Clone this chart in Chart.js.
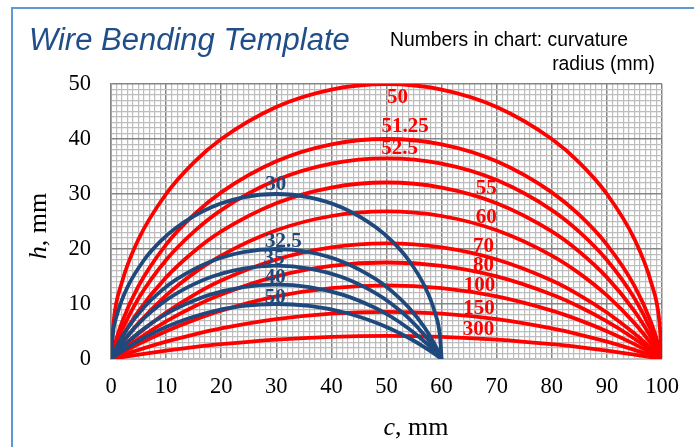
<!DOCTYPE html>
<html>
<head>
<meta charset="utf-8">
<title>Wire Bending Template</title>
<script src="https://cdn.jsdelivr.net/npm/chart.js@4.4.1/dist/chart.umd.min.js"></script>
<style>
  body { margin: 0; background: #fff; }
  canvas { display: block; }
</style>
</head>
<body>
<canvas id="chart" width="694" height="447"></canvas>
<script>
// chord position c (mm) for the 100 mm arcs and the 60 mm arcs
const redC = [0, 0.5, 2, 5, 10, 15, 20, 30, 40, 50, 60, 70, 80, 85, 90, 95, 98, 99.5, 100];
const blueC = [0, 0.3, 1.2, 3, 6, 9, 12, 18, 24, 30, 36, 42, 48, 51, 54, 57, 58.8, 59.7, 60];

// height h (mm) read along each arc
const redH50 = [0, 7.05, 14, 21.79, 30, 35.71, 40, 45.83, 48.99, 50, 48.99, 45.83, 40, 35.71, 30, 21.79, 14, 7.05, 0];
const redH51 = [0, 2.03, 6.71, 13.28, 20.79, 26.19, 30.3, 35.94, 39.02, 40, 39.02, 35.94, 30.3, 26.19, 20.79, 13.28, 6.71, 2.03, 0];
const redH52 = [0, 1.49, 5.26, 11.03, 18, 23.12, 27.08, 32.53, 35.53, 36.49, 35.53, 32.53, 27.08, 23.12, 18, 11.03, 5.26, 1.49, 0];
const redH55 = [0, 1.06, 3.94, 8.71, 14.84, 19.51, 23.19, 28.32, 31.17, 32.09, 31.17, 28.32, 23.19, 19.51, 14.84, 8.71, 3.94, 1.06, 0];
const redH60 = [0, 0.74, 2.83, 6.52, 11.56, 15.57, 18.8, 23.4, 26, 26.83, 26, 23.4, 18.8, 15.57, 11.56, 6.52, 2.83, 0.74, 0];
const redH70 = [0, 0.51, 1.96, 4.63, 8.46, 11.63, 14.26, 18.09, 20.29, 21.01, 20.29, 18.09, 14.26, 11.63, 8.46, 4.63, 1.96, 0.51, 0];
const redH80 = [0, 0.4, 1.55, 3.69, 6.83, 9.49, 11.71, 15.01, 16.92, 17.55, 16.92, 15.01, 11.71, 9.49, 6.83, 3.69, 1.55, 0.4, 0];
const redH100 = [0, 0.29, 1.12, 2.7, 5.05, 7.07, 8.79, 11.38, 12.9, 13.4, 12.9, 11.38, 8.79, 7.07, 5.05, 2.7, 1.12, 0.29, 0];
const redH150 = [0, 0.18, 0.69, 1.67, 3.15, 4.44, 5.55, 7.24, 8.25, 8.58, 8.25, 7.24, 5.55, 4.44, 3.15, 1.67, 0.69, 0.18, 0];
const redH300 = [0, 0.08, 0.33, 0.8, 1.52, 2.15, 2.69, 3.53, 4.03, 4.2, 4.03, 3.53, 2.69, 2.15, 1.52, 0.8, 0.33, 0.08, 0];

const blueH30 = [0, 4.23, 8.4, 13.08, 18, 21.42, 24, 27.5, 29.39, 30, 29.39, 27.5, 24, 21.42, 18, 13.08, 8.4, 4.23, 0];
const blueH32 = [0, 0.7, 2.56, 5.59, 9.41, 12.3, 14.56, 17.7, 19.44, 20, 19.44, 17.7, 14.56, 12.3, 9.41, 5.59, 2.56, 0.7, 0];
const blueH35 = [0, 0.49, 1.86, 4.24, 7.45, 9.97, 11.99, 14.85, 16.45, 16.97, 16.45, 14.85, 11.99, 9.97, 7.45, 4.24, 1.86, 0.49, 0];
const blueH40 = [0, 0.34, 1.3, 3.06, 5.54, 7.59, 9.26, 11.7, 13.09, 13.54, 13.09, 11.7, 9.26, 7.59, 5.54, 3.06, 1.3, 0.34, 0];
const blueH50 = [0, 0.22, 0.87, 2.08, 3.86, 5.38, 6.65, 8.54, 9.64, 10, 9.64, 8.54, 6.65, 5.38, 3.86, 2.08, 0.87, 0.22, 0];

// curvature radius labels and where they sit (in c, h units)
const redRadii = ['50', '51.25', '52.5', '55', '60', '70', '80', '100', '150', '300'];
const redLabelC = [52.0, 53.4, 52.4, 68.1, 68.1, 67.6, 67.6, 66.9, 66.8, 66.7];
const redLabelH = [47.5, 42.3, 38.3, 31.0, 25.7, 20.5, 16.9, 13.3, 9.2, 5.3];
const blueRadii = ['30', '32.5', '35', '40', '50'];
const blueLabelC = [29.9, 31.3, 29.6, 29.8, 29.8];
const blueLabelH = [31.7, 21.3, 18.3, 14.8, 11.2];

const xTicks = [0, 10, 20, 30, 40, 50, 60, 70, 80, 90, 100];
const yTicks = [0, 10, 20, 30, 40, 50];

const RED = '#FF0000';
const BLUE = '#1F497D';

const redSeries = [redH50, redH51, redH52, redH55, redH60, redH70, redH80, redH100, redH150, redH300];
const blueSeries = [blueH30, blueH32, blueH35, blueH40, blueH50];

function makeSet(xs, ys, color, name) {
  return {
    label: name,
    data: ys.map((h, i) => ({ x: xs[i], y: h })),
    borderColor: color,
    borderWidth: 3.8,
    pointRadius: 0,
    showLine: true,
    fill: false,
    cubicInterpolationMode: 'monotone'
  };
}

// blue first so it draws on top of the red arcs
const datasets = [
  ...blueSeries.map((ys, i) => makeSet(blueC, ys, BLUE, blueRadii[i])),
  ...redSeries.map((ys, i) => makeSet(redC, ys, RED, redRadii[i]))
];

// frame, title and axis titles
const decorations = {
  id: 'decorations',
  beforeDraw(chart) {
    const ctx = chart.ctx;
    ctx.save();
    ctx.fillStyle = '#fff';
    ctx.fillRect(0, 0, chart.width, chart.height);
    ctx.strokeStyle = '#5B9BD5';
    ctx.lineWidth = 2;
    ctx.beginPath();
    ctx.moveTo(12, chart.height);
    ctx.lineTo(12, 8);
    ctx.lineTo(chart.width, 8);
    ctx.stroke();
    ctx.restore();
  },
  afterDraw(chart) {
    const ctx = chart.ctx;
    ctx.save();
    ctx.textBaseline = 'alphabetic';

    ctx.fillStyle = '#1F4E89';
    ctx.font = 'italic 31px "Liberation Sans", Arial, sans-serif';
    ctx.textAlign = 'left';
    ctx.fillText('Wire Bending Template', 29, 50);

    ctx.fillStyle = '#000';
    ctx.font = '19.3px "Liberation Sans", Arial, sans-serif';
    ctx.fillText('Numbers in chart: curvature', 390, 46);
    ctx.textAlign = 'right';
    ctx.fillText('radius (mm)', 655, 70);

    // x axis title
    const italic = 'italic 26px "Liberation Serif", "Times New Roman", serif';
    const upright = '26px "Liberation Serif", "Times New Roman", serif';
    ctx.textAlign = 'left';
    ctx.font = italic;
    const cw = ctx.measureText('c').width;
    ctx.font = upright;
    const rw = ctx.measureText(', mm').width;
    let x0 = 416 - (cw + rw) / 2;
    ctx.font = italic;
    ctx.fillText('c', x0, 435);
    ctx.font = upright;
    ctx.fillText(', mm', x0 + cw, 435);

    // y axis title
    ctx.translate(46, 226);
    ctx.rotate(-Math.PI / 2);
    ctx.font = italic;
    const hw = ctx.measureText('h').width;
    ctx.font = upright;
    const rw2 = ctx.measureText(', mm').width;
    x0 = -(hw + rw2) / 2;
    ctx.font = italic;
    ctx.fillText('h', x0, 0);
    ctx.font = upright;
    ctx.fillText(', mm', x0 + hw, 0);
    ctx.restore();
  }
};

// radius numbers next to the arcs
const radiusLabels = {
  id: 'radiusLabels',
  afterDatasetsDraw(chart) {
    const ctx = chart.ctx;
    const xs = chart.scales.x;
    const ys = chart.scales.y;
    ctx.save();
    ctx.font = 'bold 21px "Liberation Serif", "Times New Roman", serif';
    ctx.textAlign = 'center';
    ctx.textBaseline = 'middle';
    ctx.fillStyle = RED;
    redRadii.forEach((t, i) => {
      ctx.fillText(t, xs.getPixelForValue(redLabelC[i]), ys.getPixelForValue(redLabelH[i]));
    });
    ctx.fillStyle = BLUE;
    blueRadii.forEach((t, i) => {
      ctx.fillText(t, xs.getPixelForValue(blueLabelC[i]), ys.getPixelForValue(blueLabelH[i]));
    });
    ctx.restore();
  }
};

const gridColor = c => (c.tick && c.tick.value % 10 === 0) ? '#858585' : '#BDBDBD';
const gridWidth = c => (c.tick && c.tick.value % 10 === 0) ? 1.5 : 1.2;
const tickFont = { family: '"Liberation Serif", "Times New Roman", serif', size: 22.5 };

new Chart(document.getElementById('chart'), {
  type: 'scatter',
  data: { datasets },
  options: {
    responsive: false,
    animation: false,
    layout: { padding: { left: 0, right: 32, top: 84, bottom: 0 } },
    plugins: {
      legend: { display: false },
      tooltip: { enabled: false }
    },
    scales: {
      x: {
        type: 'linear',
        min: xTicks[0],
        max: xTicks[xTicks.length - 1],
        afterFit: s => { s.height = 88; },
        border: { color: '#BFBFBF', width: 1.5 },
        grid: { color: gridColor, lineWidth: gridWidth, drawTicks: false },
        ticks: {
          stepSize: 1,
          autoSkip: false,
          maxRotation: 0,
          padding: 15,
          color: '#000',
          font: tickFont,
          callback: v => xTicks.includes(v) ? String(v) : ''
        }
      },
      y: {
        type: 'linear',
        min: yTicks[0],
        max: yTicks[yTicks.length - 1],
        afterFit: s => { s.width = 111; },
        border: { color: '#858585', width: 1.5 },
        grid: { color: gridColor, lineWidth: gridWidth, drawTicks: false },
        ticks: {
          stepSize: 1,
          autoSkip: false,
          padding: 20,
          color: '#000',
          font: tickFont,
          callback: v => yTicks.includes(v) ? String(v) : ''
        }
      }
    }
  },
  plugins: [decorations, radiusLabels]
});
</script>
</body>
</html>
